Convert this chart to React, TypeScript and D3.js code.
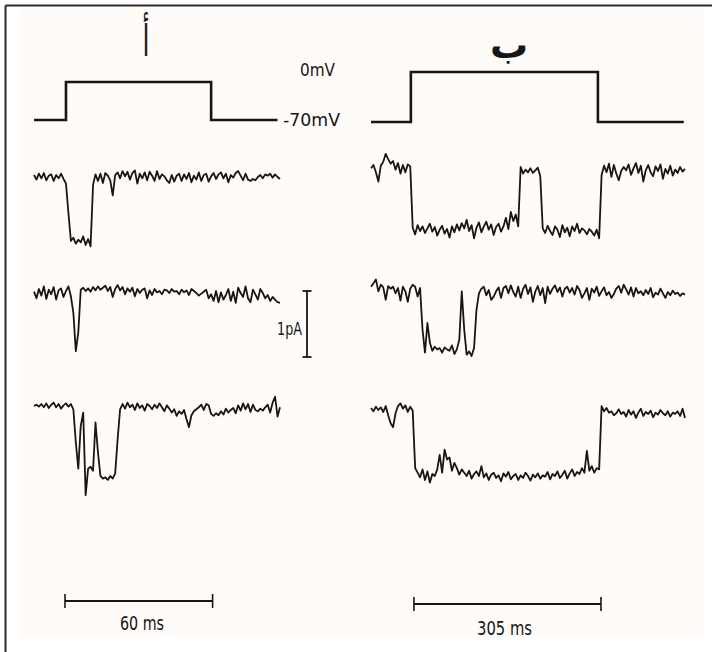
import React from "react";
import * as d3 from "d3";

// ---------- data ----------
// Voltage protocol (ms, mV)
const protocolTimesA = [0, 13, 72, 99];
const protocolVoltsA = [-70, 0, -70, -70];
const protocolTimesB = [0, 65, 370, 510];
const protocolVoltsB = [-70, 0, -70, -70];

// Single-channel currents (pA), panel A sampled every 1 ms, panel B every 4 ms
const dtA = 1;
const dtB = 4;

const traceA1 = [
  0.03, -0.04, 0.05, -0.02, 0.06, -0.05, 0.02, 0.04, -0.06, 0.03, -0.02, 0.05, -0.03, -0.1,
  -0.55, -0.97, -0.92, -1.01, -0.95, -0.99, -0.9, -1.03, -0.94, -1.05,
  -0.12, 0.04, -0.06, 0.05, -0.09, 0.06, 0.02, -0.05, -0.28, 0.03,
  0.07, -0.02, 0.09, 0.01, 0.08, -0.04, 0.06, 0.1, -0.1, 0.05,
  -0.02, 0.07, -0.05, 0.08, 0.02, -0.06, 0.09, -0.03, 0.04, 0.01,
  -0.05, -0.09, 0.03, -0.07, 0.02, 0.05, -0.06, 0.04, -0.03, 0.06,
  -0.08, 0.02, -0.04, 0.07, -0.06, 0.03, 0.05, -0.07, 0.01, 0.06,
  -0.03, 0.04, 0.07, -0.02, 0.05, -0.08, 0.03, -0.01, 0.06, 0.09,
  0.02, -0.05, 0.05, -0.04, -0.06, -0.03, -0.05, 0.0, 0.03, -0.02,
  0.04, 0.02, 0.05, -0.01, 0.04, 0.0, -0.03,
];

const traceA2 = [
  0.02, -0.08, 0.06, -0.04, 0.1, -0.09, 0.05, -0.02, 0.09, -0.1,
  0.04, 0.07, -0.06, 0.03, 0.1, -0.05, -0.3,
  -0.88, -0.6,
  0.05, 0.08, 0.03, 0.07, 0.02, 0.09, 0.04, 0.1, 0.05, 0.08,
  0.11, 0.03, 0.09, -0.06, 0.06, 0.12, 0.04, 0.09, -0.02, 0.07,
  0.02, 0.08, -0.05, 0.06, 0.0, 0.05, 0.07, -0.08, 0.04, -0.03,
  0.06, 0.01, 0.03, -0.02, 0.05, 0.04, 0.0, 0.06, 0.02, 0.03,
  -0.02, 0.05, 0.01, 0.04, -0.03, 0.06, 0.03, 0.0, -0.04, -0.01,
  0.02, 0.05, -0.08, -0.02, -0.12, 0.03, -0.14, 0.01, -0.1, -0.03,
  0.06, -0.12, 0.02, -0.15, 0.08, 0.0, -0.06, 0.1, -0.08, -0.14,
  0.05, -0.02, -0.1, 0.06, 0.0, -0.08, -0.03, -0.12, -0.06, -0.1,
  -0.14, -0.15,
];

const traceA3 = [
  0.0, 0.02, -0.01, 0.03, -0.02, 0.04, -0.03, 0.02, 0.05, -0.02, 0.03, -0.04, 0.01, 0.04, -0.01, 0.03, -0.05,
  -0.55, -0.95, -0.3, -0.1, -1.35, -0.95, -0.92, -0.98, -0.25, -0.7, -1.06, -1.1, -1.08, -1.12, -1.06, -1.1, -1.02, -0.5, -0.05,
  0.03, -0.04, 0.05, -0.02, 0.02, -0.06, 0.04, -0.03, 0.01, -0.07,
  0.03, 0.0, -0.05, 0.02, -0.03, 0.04, -0.02, -0.08, 0.01, -0.04,
  -0.1, -0.05, -0.15, -0.08, -0.12, -0.06, -0.2, -0.32, -0.14, -0.08,
  -0.05, -0.02, 0.02, -0.06, 0.03, 0.01, -0.12, -0.15, -0.11, -0.14,
  -0.08, -0.13, -0.04, -0.1, -0.06, -0.03, -0.11, 0.01, -0.07, 0.04,
  -0.05, 0.03, -0.09, 0.02, -0.06, -0.08, -0.04, -0.07, -0.02, 0.02,
  -0.1, 0.05, 0.14, -0.16, -0.02,
];

const traceB1 = [
  -0.02, 0.03, -0.08, -0.22, 0.02, 0.08, 0.2, 0.12, 0.05, 0.09, -0.04, 0.06, -0.1, 0.03, -0.08, 0.04, 0.01,
  -0.92, -1.02, -0.88, -0.97, -0.9, -1.0, -0.93, -0.86, -0.98, -0.91,
  -1.04, -0.95, -0.89, -1.01, -0.94, -1.07, -0.9, -0.99, -0.87, -0.96,
  -0.85, -0.93, -0.8, -0.97, -0.88, -1.08, -0.92, -0.84, -0.99, -0.9,
  -0.83, -0.95, -0.87, -1.03, -0.91, -0.86, -0.98, -0.9, -0.77, -0.94,
  -0.68, -0.82, -0.72, -0.9,
  0.0, -0.1, -0.04, -0.08, -0.02, -0.09, -0.05, -0.01, -0.14,
  -0.93, -1.0, -0.89, -0.97, -1.03, -0.9, -0.95, -1.06, -0.88, -0.99,
  -0.92, -1.05, -0.9, -0.97, -0.86, -1.0, -0.93, -0.96, -1.02, -0.94,
  -0.98, -1.04, -0.95, -1.08,
  -0.12, 0.02, -0.08, 0.05, -0.15, 0.03, -0.1, -0.2, -0.06, 0.0,
  -0.05, 0.04, -0.12, -0.02, 0.06, -0.09, 0.02, -0.22, -0.05, 0.03,
  -0.08, -0.14, 0.01, -0.06, 0.04, -0.18, -0.03, -0.1, 0.02, -0.13,
  -0.04, -0.09, 0.0, -0.07, -0.03,
];

const traceB2 = [
  0.05, 0.1, 0.16, -0.02, 0.08, 0.04, -0.15, 0.06, 0.02, 0.05, -0.05, 0.03, -0.16, 0.05, -0.02, -0.18, 0.02, 0.08, 0.05, -0.1, 0.03,
  -0.6, -0.95, -0.5, -0.8, -0.92, -0.86, -0.9, -0.88, -0.95, -0.87, -0.9, -0.92, -0.84, -0.97, -0.9, -0.75, -0.02, -0.6, -0.98, -0.93, -1.0, -0.88, -0.3,
  -0.05, 0.02, 0.05, -0.08, 0.0, -0.15, -0.1, -0.02, 0.04, -0.12,
  0.03, 0.06, -0.05, 0.07, -0.03, -0.1, 0.05, -0.12, 0.02, 0.08,
  -0.06, 0.04, -0.18, -0.02, 0.06, -0.08, 0.03, -0.2, 0.05, -0.06,
  0.02, 0.07, -0.03, 0.04, -0.1, 0.02, 0.05, -0.04, 0.03, -0.07,
  0.06, 0.0, -0.12, -0.05, 0.03, -0.15, 0.02, -0.04, 0.05, -0.09,
  -0.02, 0.04, -0.08, -0.03, -0.12, -0.06, 0.02, 0.06, -0.04, 0.08,
  0.01, -0.07, 0.04, -0.1, 0.03, -0.05, -0.02, -0.08, 0.0, -0.06,
  0.03, -0.11, -0.04, -0.07, 0.02, -0.05, -0.12, -0.03, -0.08, -0.01,
  -0.06, -0.04, -0.09, -0.05, -0.07,
];

const traceB3 = [
  0.03, -0.02, 0.05, 0.0, 0.04, -0.03, 0.06, -0.08, -0.2, -0.26, -0.05, 0.06, 0.1, 0.02, 0.07, -0.03, 0.05, -0.01,
  -0.88, -0.95, -1.02, -0.9, -1.06, -0.93, -1.1, -0.97, -1.0, -0.9,
  -0.68, -0.95, -0.6, -0.75, -0.72, -0.92, -0.8, -0.88, -0.98, -0.9,
  -0.95, -1.0, -0.92, -1.04, -0.97, -0.93, -1.0, -0.85, -1.02, -0.96,
  -1.06, -0.98, -0.95, -1.03, -0.99, -1.08, -0.96, -1.01, -0.94, -1.05,
  -1.0, -0.97, -1.06, -0.99, -1.03, -0.95, -1.0, -1.07, -0.98, -1.02,
  -0.96, -1.04, -0.99, -1.01, -0.94, -1.05, -0.97, -1.0, -0.93, -1.03,
  -0.98, -0.92, -1.04, -0.96, -0.9, -1.0, -0.94, -0.97, -0.88, -0.95,
  -0.62, -0.92, -0.85, -0.95, -0.88, -0.9,
  0.06, -0.02, 0.03, -0.04, -0.02, -0.08, -0.05, 0.01, -0.06, -0.03,
  -0.1, 0.0, -0.07, -0.02, -0.12, -0.04, 0.02, -0.09, -0.03, -0.06,
  -0.01, -0.11, -0.04, -0.07, 0.0, -0.05, -0.08, -0.02, -0.1, -0.04,
  -0.06, -0.02, -0.09, 0.02, -0.12,
];

// Scale bars
const timeBarA = [12.6, 72.6]; // 60 ms
const timeBarB = [70, 375]; // 305 ms
const currentBar = [0, -1]; // 1 pA

// Labels
const panelLabels = ["أ", "ب"];
const voltageLabels = ["0mV", "-70mV"];
const currentLabel = "1pA";
const timeLabels = ["60 ms", "305 ms"];

// ---------- layout ----------
const W = 712;
const H = 652;
const INK = "#161616";
const FONT = "'Liberation Sans Narrow', 'DejaVu Sans Condensed', 'Liberation Sans', sans-serif";
const PX_PER_PA = 66;

const xA = d3.scaleLinear().domain([0, 100]).range([34, 280]);
const xB = d3.scaleLinear().domain([0, 512]).range([371, 685]);
const vA = d3.scaleLinear().domain([-70, 0]).range([120, 82]);
const vB = d3.scaleLinear().domain([-70, 0]).range([122, 72]);

const rowsA = [177, 293, 406];
const rowsB = [167, 290, 410];

function yFor(base: number) {
  return d3.scaleLinear().domain([0, -1]).range([base, base + PX_PER_PA]);
}

function tracePath(values: number[], x: d3.ScaleLinear<number, number>, dt: number, base: number) {
  const y = yFor(base);
  return (
    d3
      .line<number>()
      .x((_, i) => x(i * dt))
      .y((d) => y(d))(values) || ""
  );
}

function protocolPath(times: number[], volts: number[], x: d3.ScaleLinear<number, number>, v: d3.ScaleLinear<number, number>) {
  const pts = times.map((t, i) => [t, volts[i]] as [number, number]);
  return (
    d3
      .line<[number, number]>()
      .x((d) => x(d[0]))
      .y((d) => v(d[1]))
      .curve(d3.curveStepAfter)(pts) || ""
  );
}

function HBar({ x0, x1, y }: { x0: number; x1: number; y: number }) {
  return (
    <g stroke={INK} strokeWidth={2} fill="none">
      <line x1={x0} x2={x1} y1={y} y2={y} />
      <line x1={x0} x2={x0} y1={y - 7} y2={y + 7} strokeWidth={1.6} />
      <line x1={x1} x2={x1} y1={y - 7} y2={y + 7} strokeWidth={1.6} />
    </g>
  );
}

export default function App() {
  const tracesA = [traceA1, traceA2, traceA3];
  const tracesB = [traceB1, traceB2, traceB3];
  const yBar = yFor(291);
  return (
    <div style={{ position: "absolute", left: 0, top: 0 }}>
      <svg width={W} height={H} viewBox={`0 0 ${W} ${H}`} style={{ display: "block", background: "#ffffff" }}>
        <rect x={20} y={8} width={684} height={629} fill="#fefbf9" />
        {/* frame */}
        <line x1={5.5} x2={712} y1={5.5} y2={5.5} stroke="#2a2a2a" strokeWidth={2} />
        <line x1={5.5} x2={5.5} y1={5.5} y2={652} stroke="#2a2a2a" strokeWidth={2} />

        {/* panel labels */}
        <text
          transform="translate(146,56) scale(0.6,1.05)"
          fontFamily="'DejaVu Sans', sans-serif"
          fontSize={42}
          fill={INK}
          textAnchor="middle"
        >
          {panelLabels[0]}
        </text>
        <text x={509} y={58} fontFamily="'DejaVu Sans', sans-serif" fontWeight="bold" fontSize={38} fill={INK} textAnchor="middle">
          {panelLabels[1]}
        </text>

        {/* voltage protocols */}
        <path d={protocolPath(protocolTimesA, protocolVoltsA, xA, vA)} fill="none" stroke={INK} strokeWidth={2.6} />
        <path d={protocolPath(protocolTimesB, protocolVoltsB, xB, vB)} fill="none" stroke={INK} strokeWidth={2.6} />
        <text x={300} y={76} fontFamily={FONT} fontSize={18} fill={INK} textLength={35} lengthAdjust="spacingAndGlyphs">
          {voltageLabels[0]}
        </text>
        <text x={283} y={126} fontFamily={FONT} fontSize={18} fill={INK} textLength={57} lengthAdjust="spacingAndGlyphs">
          {voltageLabels[1]}
        </text>

        {/* current traces */}
        {tracesA.map((t, i) => (
          <path key={"a" + i} d={tracePath(t, xA, dtA, rowsA[i])} fill="none" stroke={INK} strokeWidth={1.8} strokeLinejoin="round" />
        ))}
        {tracesB.map((t, i) => (
          <path key={"b" + i} d={tracePath(t, xB, dtB, rowsB[i])} fill="none" stroke={INK} strokeWidth={1.8} strokeLinejoin="round" />
        ))}

        {/* 1 pA bar */}
        <g stroke={INK} strokeWidth={1.8}>
          <line x1={307} x2={307} y1={yBar(currentBar[0])} y2={yBar(currentBar[1])} />
          <line x1={302.5} x2={311.5} y1={yBar(currentBar[0])} y2={yBar(currentBar[0])} />
          <line x1={302.5} x2={311.5} y1={yBar(currentBar[1])} y2={yBar(currentBar[1])} />
        </g>
        <text x={277} y={335} fontFamily={FONT} fontSize={18} fill={INK} textLength={25} lengthAdjust="spacingAndGlyphs">
          {currentLabel}
        </text>

        {/* time bars */}
        <HBar x0={xA(timeBarA[0])} x1={xA(timeBarA[1])} y={601} />
        <HBar x0={xB(timeBarB[0])} x1={xB(timeBarB[1])} y={604} />
        <text x={120} y={630} fontFamily={FONT} fontSize={20} fill={INK} textLength={44} lengthAdjust="spacingAndGlyphs">
          {timeLabels[0]}
        </text>
        <text x={477} y={635} fontFamily={FONT} fontSize={20} fill={INK} textLength={55} lengthAdjust="spacingAndGlyphs">
          {timeLabels[1]}
        </text>
      </svg>
    </div>
  );
}
